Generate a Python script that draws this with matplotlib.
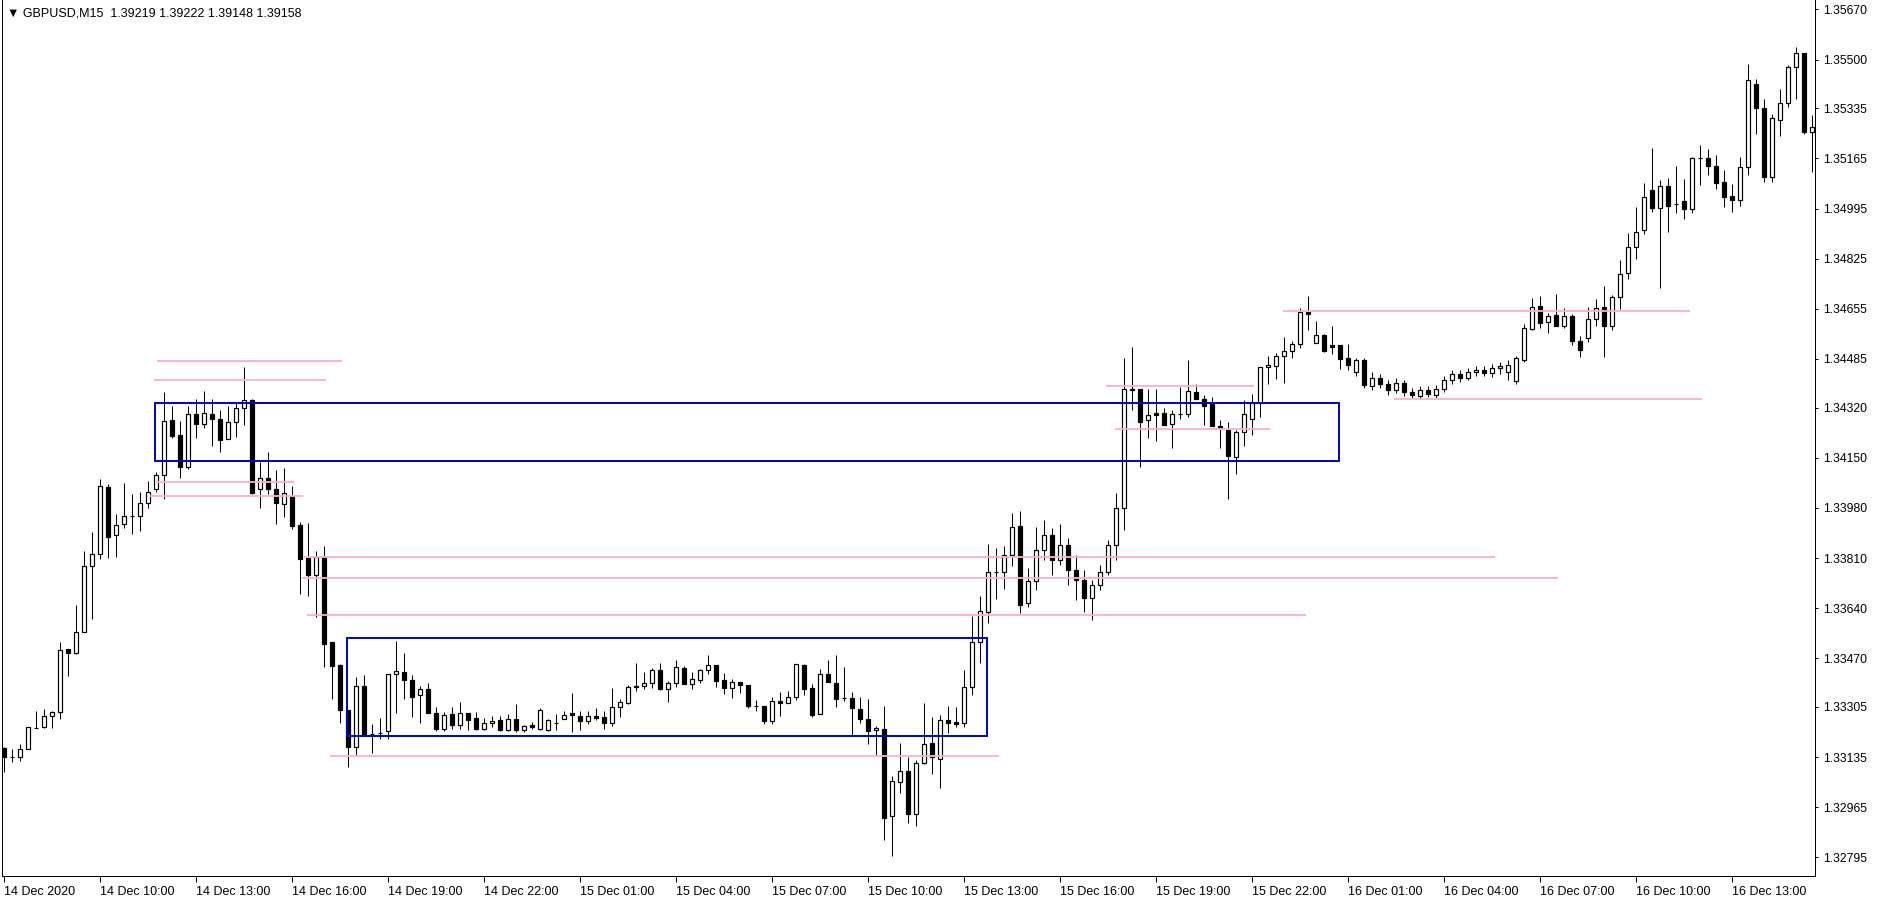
import matplotlib
matplotlib.use("Agg")
import matplotlib.pyplot as plt
from matplotlib.patches import Rectangle
import numpy as np

plt.rcParams['font.family'] = ['Liberation Sans', 'DejaVu Sans']

header = "\u25bc GBPUSD,M15  1.39219 1.39222 1.39148 1.39158"

# GBPUSD M15 bars, 14 Dec 07:00 .. 16 Dec 15:30
opens = [
    1.33165, 1.33135, 1.33135, 1.33162, 1.33233, 1.33238, 1.33276, 1.33287, 1.33502, 1.33487,
    1.33560, 1.33782, 1.33823, 1.34051, 1.33887, 1.33925, 1.33952, 1.33952, 1.33996, 1.34043,
    1.34091, 1.34278, 1.34227, 1.34117, 1.34298, 1.34264, 1.34298, 1.34282, 1.34212, 1.34271,
    1.34318, 1.34345, 1.34043, 1.34081, 1.34044, 1.33992, 1.34022, 1.33922, 1.33811, 1.33754,
    1.33814, 1.33525, 1.33449, 1.33295, 1.33171, 1.33375, 1.33214, 1.33218, 1.33223, 1.33416,
    1.33423, 1.33396, 1.33345, 1.33365, 1.33285, 1.33230, 1.33280, 1.33245, 1.33285, 1.33267,
    1.33232, 1.33250, 1.33260, 1.33227, 1.33264, 1.33227, 1.33243, 1.33232, 1.33227, 1.33251,
    1.33264, 1.33284, 1.33274, 1.33257, 1.33274, 1.33270, 1.33252, 1.33304, 1.33320, 1.33377,
    1.33377, 1.33386, 1.33430, 1.33365, 1.33386, 1.33436, 1.33382, 1.33396, 1.33430, 1.33447,
    1.33396, 1.33369, 1.33389, 1.33379, 1.33308, 1.33308, 1.33257, 1.33325, 1.33318, 1.33338,
    1.33447, 1.33370, 1.33280, 1.33416, 1.33386, 1.33335, 1.33335, 1.33298, 1.33265, 1.33226,
    1.33231, 1.32935, 1.33052, 1.33087, 1.32942, 1.33114, 1.33182, 1.33128, 1.33260, 1.33253,
    1.33250, 1.33374, 1.33525, 1.33627, 1.33764, 1.33764, 1.33820, 1.33919, 1.33657, 1.33732,
    1.33837, 1.33888, 1.33804, 1.33854, 1.33770, 1.33736, 1.33675, 1.33719, 1.33763, 1.33854,
    1.33981, 1.34383, 1.34383, 1.34277, 1.34301, 1.34301, 1.34266, 1.34298, 1.34298, 1.34374,
    1.34348, 1.34332, 1.34258, 1.34244, 1.34154, 1.34239, 1.34281, 1.34335, 1.34457, 1.34460,
    1.34494, 1.34513, 1.34535, 1.34645, 1.34538, 1.34566, 1.34531, 1.34531, 1.34488, 1.34441,
    1.34482, 1.34393, 1.34421, 1.34400, 1.34380, 1.34404, 1.34373, 1.34360, 1.34380, 1.34363,
    1.34383, 1.34414, 1.34434, 1.34421, 1.34441, 1.34448, 1.34438, 1.34455, 1.34441, 1.34410,
    1.34482, 1.34587, 1.34666, 1.34609, 1.34633, 1.34598, 1.34631, 1.34546, 1.34556, 1.34620,
    1.34660, 1.34598, 1.34696, 1.34776, 1.34864, 1.34921, 1.35057, 1.34996, 1.35070, 1.35010,
    1.35020, 1.34992, 1.35165, 1.35166, 1.35139, 1.35085, 1.35038, 1.35023, 1.35135, 1.35417,
    1.35335, 1.35101, 1.35294, 1.35352, 1.35474, 1.35521, 1.35254,
]
highs = [
    1.33170, 1.33162, 1.33179, 1.33236, 1.33292, 1.33298, 1.33292, 1.33525, 1.33502, 1.33651,
    1.33834, 1.33898, 1.34078, 1.34060, 1.33960, 1.34064, 1.34027, 1.34033, 1.34071, 1.34101,
    1.34373, 1.34327, 1.34275, 1.34325, 1.34349, 1.34376, 1.34349, 1.34312, 1.34326, 1.34335,
    1.34458, 1.34348, 1.34136, 1.34170, 1.34109, 1.34116, 1.34055, 1.33931, 1.33929, 1.33834,
    1.33851, 1.33525, 1.33452, 1.33295, 1.33407, 1.33414, 1.33248, 1.33267, 1.33416, 1.33529,
    1.33488, 1.33414, 1.33377, 1.33387, 1.33305, 1.33288, 1.33305, 1.33322, 1.33285, 1.33288,
    1.33266, 1.33274, 1.33274, 1.33280, 1.33315, 1.33243, 1.33253, 1.33303, 1.33264, 1.33280,
    1.33291, 1.33353, 1.33291, 1.33291, 1.33302, 1.33291, 1.33370, 1.33331, 1.33380, 1.33453,
    1.33424, 1.33436, 1.33453, 1.33392, 1.33464, 1.33443, 1.33423, 1.33433, 1.33480, 1.33447,
    1.33419, 1.33399, 1.33389, 1.33379, 1.33328, 1.33308, 1.33338, 1.33355, 1.33358, 1.33450,
    1.33450, 1.33383, 1.33434, 1.33465, 1.33481, 1.33441, 1.33355, 1.33338, 1.33332, 1.33241,
    1.33309, 1.33071, 1.33182, 1.33137, 1.33126, 1.33318, 1.33270, 1.33278, 1.33309, 1.33304,
    1.33431, 1.33615, 1.33682, 1.33858, 1.33845, 1.33851, 1.33963, 1.33970, 1.33775, 1.33916,
    1.33939, 1.33912, 1.33926, 1.33878, 1.33820, 1.33770, 1.33736, 1.33787, 1.33871, 1.34030,
    1.34488, 1.34525, 1.34383, 1.34383, 1.34383, 1.34319, 1.34311, 1.34390, 1.34482, 1.34399,
    1.34362, 1.34355, 1.34278, 1.34270, 1.34244, 1.34346, 1.34366, 1.34457, 1.34495, 1.34506,
    1.34559, 1.34546, 1.34657, 1.34699, 1.34614, 1.34570, 1.34597, 1.34532, 1.34536, 1.34488,
    1.34488, 1.34441, 1.34434, 1.34414, 1.34421, 1.34414, 1.34387, 1.34393, 1.34393, 1.34397,
    1.34427, 1.34448, 1.34448, 1.34455, 1.34461, 1.34461, 1.34468, 1.34475, 1.34482, 1.34495,
    1.34604, 1.34691, 1.34699, 1.34640, 1.34705, 1.34657, 1.34636, 1.34563, 1.34660, 1.34687,
    1.34733, 1.34702, 1.34821, 1.34911, 1.35000, 1.35081, 1.35200, 1.35091, 1.35099, 1.35139,
    1.35095, 1.35170, 1.35210, 1.35197, 1.35176, 1.35126, 1.35078, 1.35171, 1.35485, 1.35433,
    1.35366, 1.35315, 1.35399, 1.35482, 1.35543, 1.35521, 1.35312,
]
lows = [
    1.33086, 1.33120, 1.33123, 1.33162, 1.33233, 1.33235, 1.33235, 1.33265, 1.33411, 1.33484,
    1.33560, 1.33604, 1.33807, 1.33811, 1.33815, 1.33913, 1.33893, 1.33900, 1.33978, 1.34035,
    1.34011, 1.34216, 1.34083, 1.34113, 1.34218, 1.34252, 1.34191, 1.34169, 1.34212, 1.34222,
    1.34261, 1.34027, 1.33978, 1.34027, 1.33927, 1.33950, 1.33908, 1.33689, 1.33683, 1.33611,
    1.33439, 1.33332, 1.33252, 1.33100, 1.33142, 1.33211, 1.33150, 1.33198, 1.33196, 1.33285,
    1.33333, 1.33272, 1.33252, 1.33283, 1.33224, 1.33224, 1.33232, 1.33232, 1.33227, 1.33227,
    1.33227, 1.33238, 1.33224, 1.33224, 1.33220, 1.33220, 1.33232, 1.33227, 1.33224, 1.33227,
    1.33264, 1.33220, 1.33227, 1.33247, 1.33260, 1.33232, 1.33240, 1.33272, 1.33316, 1.33360,
    1.33365, 1.33369, 1.33364, 1.33323, 1.33374, 1.33382, 1.33367, 1.33386, 1.33416, 1.33374,
    1.33348, 1.33337, 1.33352, 1.33301, 1.33291, 1.33247, 1.33247, 1.33274, 1.33318, 1.33329,
    1.33347, 1.33272, 1.33280, 1.33391, 1.33306, 1.33327, 1.33205, 1.33252, 1.33179, 1.33142,
    1.32854, 1.32801, 1.33013, 1.32913, 1.32900, 1.33111, 1.33077, 1.33032, 1.33216, 1.33238,
    1.33238, 1.33346, 1.33455, 1.33591, 1.33672, 1.33705, 1.33784, 1.33622, 1.33645, 1.33702,
    1.33804, 1.33753, 1.33787, 1.33719, 1.33668, 1.33627, 1.33600, 1.33702, 1.33753, 1.33804,
    1.33905, 1.34312, 1.34117, 1.34218, 1.34207, 1.34262, 1.34184, 1.34281, 1.34287, 1.34348,
    1.34261, 1.34256, 1.34184, 1.34010, 1.34096, 1.34191, 1.34226, 1.34289, 1.34399, 1.34418,
    1.34405, 1.34489, 1.34523, 1.34583, 1.34538, 1.34510, 1.34501, 1.34452, 1.34448, 1.34427,
    1.34387, 1.34380, 1.34387, 1.34363, 1.34370, 1.34360, 1.34353, 1.34349, 1.34356, 1.34353,
    1.34373, 1.34400, 1.34407, 1.34414, 1.34427, 1.34427, 1.34424, 1.34434, 1.34414, 1.34400,
    1.34475, 1.34583, 1.34591, 1.34572, 1.34598, 1.34589, 1.34532, 1.34492, 1.34543, 1.34598,
    1.34492, 1.34583, 1.34655, 1.34755, 1.34823, 1.34908, 1.34982, 1.34727, 1.34914, 1.34981,
    1.34959, 1.34979, 1.35074, 1.35110, 1.35062, 1.35001, 1.34984, 1.35005, 1.35110, 1.35249,
    1.35084, 1.35086, 1.35241, 1.35340, 1.35365, 1.35249, 1.35120,
]
closes = [
    1.33135, 1.33135, 1.33162, 1.33236, 1.33233, 1.33276, 1.33287, 1.33498, 1.33487, 1.33560,
    1.33782, 1.33823, 1.34053, 1.33883, 1.33921, 1.33952, 1.33952, 1.33996, 1.34033, 1.34091,
    1.34275, 1.34225, 1.34117, 1.34298, 1.34264, 1.34301, 1.34283, 1.34211, 1.34271, 1.34318,
    1.34345, 1.34031, 1.34081, 1.34043, 1.33995, 1.34030, 1.33920, 1.33808, 1.33754, 1.33813,
    1.33520, 1.33445, 1.33296, 1.33171, 1.33375, 1.33211, 1.33214, 1.33218, 1.33416, 1.33426,
    1.33396, 1.33340, 1.33365, 1.33283, 1.33232, 1.33277, 1.33245, 1.33285, 1.33262, 1.33232,
    1.33251, 1.33258, 1.33227, 1.33264, 1.33227, 1.33240, 1.33236, 1.33294, 1.33260, 1.33251,
    1.33277, 1.33277, 1.33257, 1.33274, 1.33269, 1.33252, 1.33304, 1.33321, 1.33373, 1.33372,
    1.33386, 1.33430, 1.33366, 1.33386, 1.33440, 1.33382, 1.33399, 1.33430, 1.33447, 1.33394,
    1.33369, 1.33389, 1.33379, 1.33308, 1.33308, 1.33257, 1.33325, 1.33318, 1.33338, 1.33450,
    1.33367, 1.33279, 1.33416, 1.33391, 1.33333, 1.33335, 1.33301, 1.33264, 1.33225, 1.33234,
    1.32930, 1.33053, 1.33087, 1.32942, 1.33114, 1.33179, 1.33135, 1.33260, 1.33252, 1.33249,
    1.33372, 1.33525, 1.33630, 1.33762, 1.33764, 1.33820, 1.33915, 1.33652, 1.33732, 1.33837,
    1.33888, 1.33804, 1.33854, 1.33770, 1.33736, 1.33675, 1.33719, 1.33763, 1.33854, 1.33981,
    1.34382, 1.34379, 1.34272, 1.34295, 1.34296, 1.34262, 1.34298, 1.34298, 1.34376, 1.34348,
    1.34327, 1.34256, 1.34252, 1.34157, 1.34237, 1.34298, 1.34335, 1.34457, 1.34464, 1.34494,
    1.34511, 1.34535, 1.34645, 1.34639, 1.34565, 1.34513, 1.34527, 1.34484, 1.34465, 1.34482,
    1.34397, 1.34421, 1.34400, 1.34380, 1.34404, 1.34373, 1.34363, 1.34380, 1.34366, 1.34383,
    1.34414, 1.34434, 1.34421, 1.34441, 1.34448, 1.34438, 1.34455, 1.34461, 1.34465, 1.34487,
    1.34589, 1.34662, 1.34608, 1.34632, 1.34598, 1.34631, 1.34546, 1.34515, 1.34620, 1.34657,
    1.34598, 1.34694, 1.34772, 1.34864, 1.34914, 1.35033, 1.34996, 1.35070, 1.35005, 1.35010,
    1.34992, 1.35165, 1.35165, 1.35139, 1.35083, 1.35035, 1.35023, 1.35135, 1.35430, 1.35337,
    1.35101, 1.35301, 1.35352, 1.35474, 1.35521, 1.35256, 1.35270,
]

time_labels = ["14 Dec 2020", "14 Dec 10:00", "14 Dec 13:00", "14 Dec 16:00", "14 Dec 19:00",
               "14 Dec 22:00", "15 Dec 01:00", "15 Dec 04:00", "15 Dec 07:00", "15 Dec 10:00",
               "15 Dec 13:00", "15 Dec 16:00", "15 Dec 19:00", "15 Dec 22:00", "16 Dec 01:00",
               "16 Dec 04:00", "16 Dec 07:00", "16 Dec 10:00", "16 Dec 13:00"]
bars_per_label = 12

price_ticks = [1.35670, 1.35500, 1.35335, 1.35165, 1.34995, 1.34825, 1.34655, 1.34485,
               1.34320, 1.34150, 1.33980, 1.33810, 1.33640, 1.33470, 1.33305, 1.33135,
               1.32965, 1.32795]

# rectangles: bar from, bar to, price low, price high
zone_from = [18.9, 42.9]
zone_to = [166.9, 122.9]
zone_low = [1.34139, 1.33205]
zone_high = [1.34336, 1.33540]

# horizontal levels: price, bar from, bar to
level_price = [1.34478, 1.34414, 1.34068, 1.34022, 1.33814, 1.33743, 1.33617, 1.33139,
               1.34393, 1.34248, 1.34649, 1.34349]
level_from = [19.1, 18.7, 19.0, 18.3, 37.5, 37.2, 37.9, 40.7, 137.7, 138.9, 159.9, 173.7]
level_to = [42.3, 40.3, 36.2, 37.4, 186.4, 194.3, 162.8, 124.4, 156.2, 158.2, 210.8, 212.2]

W, H = 1879, 900
fig = plt.figure(figsize=(W / 100, H / 100), dpi=100)
ax = fig.add_axes([2 / W, 24 / H, 1813 / W, 876 / H])

px = 0.72  # one pixel in points
o = np.array(opens)
c = np.array(closes)
x = np.arange(len(o))

ax.vlines(x, lows, highs, color='black', lw=px, zorder=2)
body_w = 0.46
up = c > o
down = c < o
flat = c == o
ax.bar(x[up], (c - o)[up], bottom=o[up], width=body_w, facecolor='white',
       edgecolor='black', lw=px * 1.2, zorder=3)
ax.bar(x[down], (o - c)[down], bottom=c[down], width=body_w, facecolor='black',
       edgecolor='black', lw=px * 1.2, zorder=3)
ax.hlines(o[flat], x[flat] - 0.3, x[flat] + 0.3, color='black', lw=px * 1.2, zorder=3)

for p, a, b in zip(level_price, level_from, level_to):
    ax.hlines(p, a, b, color='#FFB0C4', lw=1.3, zorder=4)

for a, b, lo, hi in zip(zone_from, zone_to, zone_low, zone_high):
    ax.add_patch(Rectangle((a, lo), b - a, hi - lo, fill=False, edgecolor='#0000C8',
                           lw=1.4, zorder=5))

ax.set_xlim(-0.25, 226.375)
ax.set_ylim(1.32732, 1.35702)

ax.set_xticks(np.arange(len(time_labels)) * bars_per_label)
ax.set_xticklabels(time_labels, ha='left', fontsize=9)
ax.yaxis.tick_right()
ax.set_yticks(price_ticks)
ax.set_yticklabels([f"{v:.5f}" for v in price_ticks], fontsize=8.7)
ax.tick_params(axis='y', direction='out', length=2.5, width=px, pad=3)
ax.tick_params(axis='x', direction='out', length=4, width=px, pad=3)

ax.spines['top'].set_visible(False)
for s in ['left', 'right', 'bottom']:
    ax.spines[s].set_linewidth(px)
    ax.spines[s].set_color('black')

ax.text(5 / 1813, 1 - 13 / 876, header, transform=ax.transAxes, fontsize=9,
        va='center', ha='left', color='black')

fig.savefig('out.png', dpi=100, facecolor='white')
